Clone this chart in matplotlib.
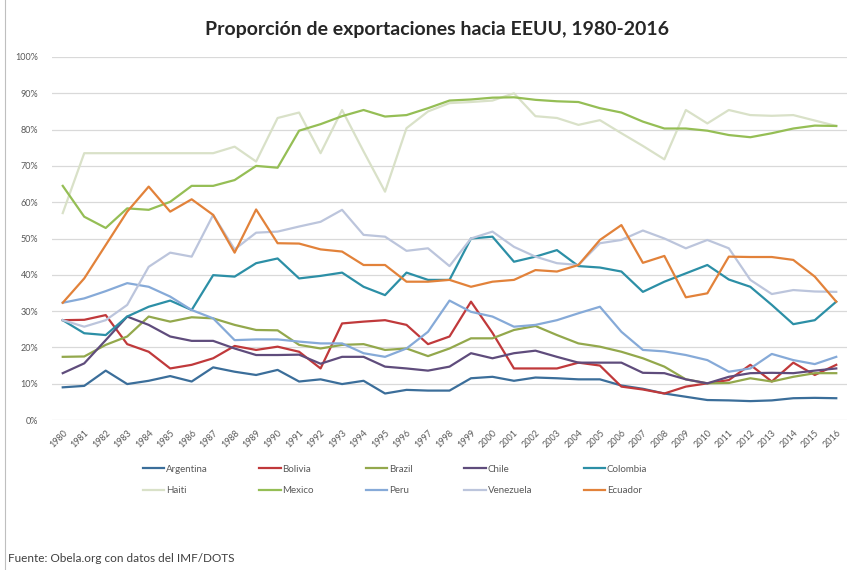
import numpy as np
import matplotlib
matplotlib.use("Agg")
import matplotlib.pyplot as plt
from matplotlib.lines import Line2D
from matplotlib.ticker import FuncFormatter, MultipleLocator

plt.rcParams['font.family'] = ['Lato', 'DejaVu Sans']

years = list(range(1980, 2017))

# export share to the US, in percent
argentina = [9.0, 9.4, 13.6, 9.9, 10.8, 12.1, 10.6, 14.5, 13.3, 12.4,
             13.8, 10.6, 11.2, 9.9, 10.8, 7.3, 8.3, 8.1, 8.1, 11.5,
             11.9, 10.8, 11.7, 11.5, 11.2, 11.2, 9.5, 8.6, 7.3, 6.4,
             5.5, 5.4, 5.2, 5.4, 6.0, 6.1, 6.0]
bolivia = [27.5, 27.6, 28.9, 20.9, 18.8, 14.2, 15.2, 17.0, 20.4, 19.3,
           20.2, 18.8, 14.2, 26.6, 27.1, 27.5, 26.2, 20.9, 23.0, 32.6,
           24.0, 14.2, 14.2, 14.2, 15.8, 15.0, 9.2, 8.4, 7.3, 9.2,
           10.1, 11.0, 15.2, 10.6, 15.8, 12.4, 15.2]
brazil = [17.4, 17.5, 20.7, 23.0, 28.5, 27.1, 28.3, 28.0, 26.2, 24.8,
          24.7, 20.7, 19.7, 20.7, 20.9, 19.3, 19.7, 17.6, 19.7, 22.5,
          22.5, 24.8, 25.9, 23.4, 21.1, 20.2, 18.8, 17.0, 14.7, 11.2,
          10.1, 10.2, 11.5, 10.6, 11.9, 12.9, 12.9]
chile = [12.9, 15.6, 22.0, 28.5, 26.2, 23.0, 21.8, 21.8, 19.7, 17.9,
         17.9, 18.0, 15.5, 17.4, 17.4, 14.7, 14.2, 13.6, 14.7, 18.4,
         17.0, 18.4, 19.1, 17.4, 15.8, 15.8, 15.8, 13.0, 12.9, 11.2,
         10.1, 11.9, 12.9, 13.0, 12.9, 13.6, 14.2]
colombia = [27.5, 23.9, 23.4, 28.5, 31.2, 32.9, 30.3, 39.9, 39.5, 43.2,
            44.5, 39.0, 39.7, 40.6, 36.7, 34.4, 40.6, 38.6, 38.6, 50.0,
            50.5, 43.6, 45.0, 46.8, 42.4, 42.0, 40.9, 35.3, 38.1, 40.4,
            42.7, 38.7, 36.7, 31.7, 26.4, 27.5, 32.6]
haiti = [57.0, 73.5, 73.5, 73.5, 73.5, 73.5, 73.5, 73.5, 75.3, 71.2,
         83.2, 84.7, 73.5, 85.4, 74.0, 62.9, 80.4, 85.0, 87.3, 87.6,
         88.0, 90.0, 83.7, 83.2, 81.3, 82.6, 79.0, 75.5, 71.8, 85.4,
         81.7, 85.4, 84.0, 83.8, 84.0, 82.5, 81.0]
mexico = [64.5, 56.0, 52.9, 58.3, 57.9, 60.1, 64.5, 64.5, 66.1, 70.0,
          69.5, 79.7, 81.5, 83.7, 85.4, 83.6, 84.0, 85.9, 88.0, 88.3,
          88.8, 88.9, 88.2, 87.8, 87.6, 85.9, 84.7, 82.2, 80.3, 80.3,
          79.7, 78.5, 77.9, 79.0, 80.3, 81.1, 81.0]
peru = [32.3, 33.5, 35.5, 37.7, 36.7, 34.0, 30.3, 28.0, 22.0, 22.2,
        22.2, 21.6, 21.1, 21.1, 18.4, 17.4, 19.7, 24.3, 32.9, 29.8,
        28.5, 25.7, 26.2, 27.5, 29.4, 31.2, 24.3, 19.3, 18.9, 17.9,
        16.5, 13.3, 14.2, 18.2, 16.5, 15.4, 17.4]
venezuela = [27.5, 25.7, 27.5, 31.7, 42.2, 46.1, 45.0, 56.5, 47.0, 51.6,
             51.9, 53.3, 54.6, 57.9, 51.0, 50.5, 46.6, 47.3, 42.4, 50.0,
             51.9, 47.7, 45.0, 43.2, 42.7, 48.7, 49.6, 52.2, 50.0, 47.3,
             49.6, 47.3, 38.6, 34.7, 35.8, 35.4, 35.3]
ecuador = [32.3, 39.0, 48.2, 57.4, 64.3, 57.4, 60.8, 56.5, 46.1, 58.0,
           48.7, 48.6, 47.0, 46.4, 42.7, 42.7, 38.1, 38.1, 38.6, 36.7,
           38.1, 38.6, 41.3, 40.9, 42.7, 49.6, 53.7, 43.3, 45.2, 33.8,
           34.9, 45.0, 44.9, 44.9, 44.1, 39.5, 32.6]

names = ['Argentina', 'Bolivia', 'Brazil', 'Chile', 'Colombia',
         'Haiti', 'Mexico', 'Peru', 'Venezuela', 'Ecuador']
series = [argentina, bolivia, brazil, chile, colombia,
          haiti, mexico, peru, venezuela, ecuador]
colors = ['#3B6E9A', '#C0393B', '#93A84C', '#5F4C7C', '#2C8FA6',
          '#D9E1C8', '#95BE55', '#86AAD8', '#BCC5DC', '#E2823A']

fig = plt.figure(figsize=(8.58, 5.70), dpi=100)
ax = fig.add_axes([52 / 858, 1 - 420 / 570, (847 - 52) / 858, (420 - 57) / 570])

handles = []
for name, vals, c in zip(names, series, colors):
    h, = ax.plot(years, vals, color=c, lw=1.6, label=name,
                 solid_joinstyle='round')
    handles.append(h)

ax.set_xlim(1979.5, 2016.5)
ax.set_ylim(0, 100)
ax.yaxis.set_major_locator(MultipleLocator(10))
ax.yaxis.set_major_formatter(FuncFormatter(lambda v, p: f"{v:.0f}%"))
ax.set_xticks(years)
ax.set_xticklabels([str(y) for y in years], rotation=45, ha='right',
                   rotation_mode='anchor')
ax.tick_params(axis='both', length=0, labelsize=6.5, labelcolor='#595959')
ax.tick_params(axis='x', pad=6)
ax.tick_params(axis='y', pad=10)
ax.grid(axis='y', color='#D9D9D9', lw=0.9)
ax.set_axisbelow(True)
for s in ax.spines.values():
    s.set_visible(False)

fig.text(437 / 858, 1 - 30 / 570, 'Proporción de exportaciones hacia EEUU, 1980-2016',
         ha='center', va='center', fontsize=14, fontweight='bold', color='#262626')

# legend laid out row by row like the original
order = [0, 5, 1, 6, 2, 7, 3, 8, 4, 9]
fig.legend([handles[i] for i in order], [names[i] for i in order],
           ncol=5, loc='center', bbox_to_anchor=(395 / 858, 1 - 480 / 570),
           frameon=False, fontsize=7, handlelength=2.2, handletextpad=0.2,
           columnspacing=5.3, labelspacing=1.3, labelcolor='#595959')

fig.text(8 / 858, 1 - 558 / 570, 'Fuente: Obela.org con datos del IMF/DOTS',
         ha='left', va='center', fontsize=8.5, color='#404040')

fig.add_artist(Line2D([5 / 858, 5 / 858], [0, 1], color='#BFBFBF', lw=0.8,
                      transform=fig.transFigure))

fig.savefig('out.png', dpi=100)
